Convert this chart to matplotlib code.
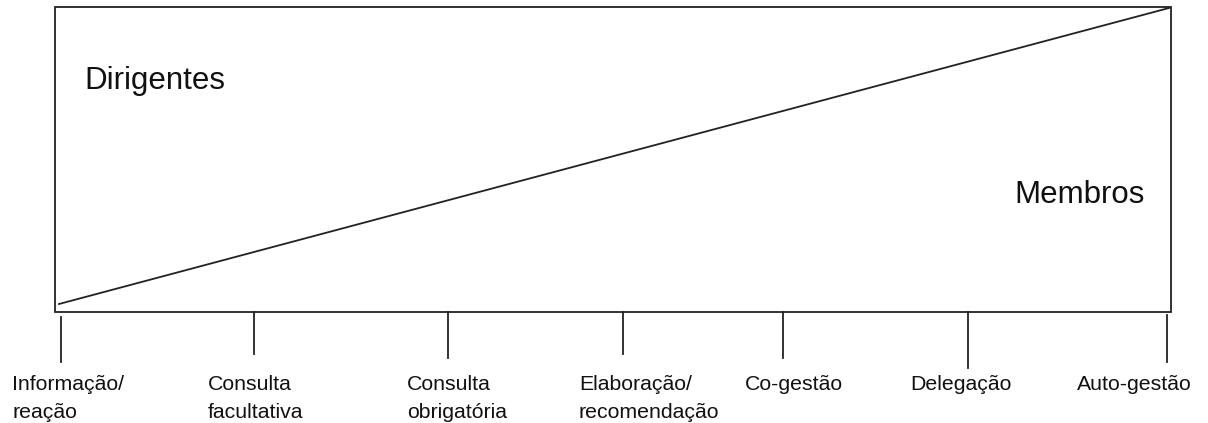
import matplotlib
matplotlib.use("Agg")
import matplotlib.pyplot as plt
from matplotlib.patches import Rectangle

# etapas da participação (escala de baixo)
etapas = ["Informação/\nreação", "Consulta\nfacultativa", "Consulta\nobrigatória",
          "Elaboração/\nrecomendação", "Co-gestão", "Delegação", "Auto-gestão"]
posicoes = [61, 254, 448, 623, 783, 968, 1167]
inicio_traco = [317, 312, 312, 312, 312, 312, 315]
fim_traco = [362, 354, 358, 354, 358, 368, 362]
inicio_rotulo = [12, 208, 407, 579, 745, 910, 1077]

# diagonal: dirigentes -> membros
diag_x = [59, 1169]
diag_y = [304, 8]

plt.rcParams['font.family'] = ['Liberation Sans', 'DejaVu Sans']

fig = plt.figure(figsize=(12.08, 4.23), dpi=100)
ax = fig.add_axes([0, 0, 1, 1])
ax.set_xlim(0, 1208)
ax.set_ylim(423, 0)
ax.axis('off')

cor = '#222222'
ax.add_patch(Rectangle((55, 7), 1171 - 55, 312 - 7, fill=False, ec=cor, lw=1.3))
ax.plot(diag_x, diag_y, color=cor, lw=1.3)

for x, y0, y1, x_txt, nome in zip(posicoes, inicio_traco, fim_traco, inicio_rotulo, etapas):
    ax.plot([x, x], [y0, y1], color=cor, lw=1.3)
    ax.text(x_txt, 375, nome, ha='left', va='top', fontsize=15.3,
            linespacing=1.6, color='#111111')

ax.text(84, 81, "Dirigentes", fontsize=22.5, va='center', ha='left', color='#111111')
ax.text(1014, 195, "Membros", fontsize=22.5, va='center', ha='left', color='#111111')

fig.savefig("out.png", dpi=100)
